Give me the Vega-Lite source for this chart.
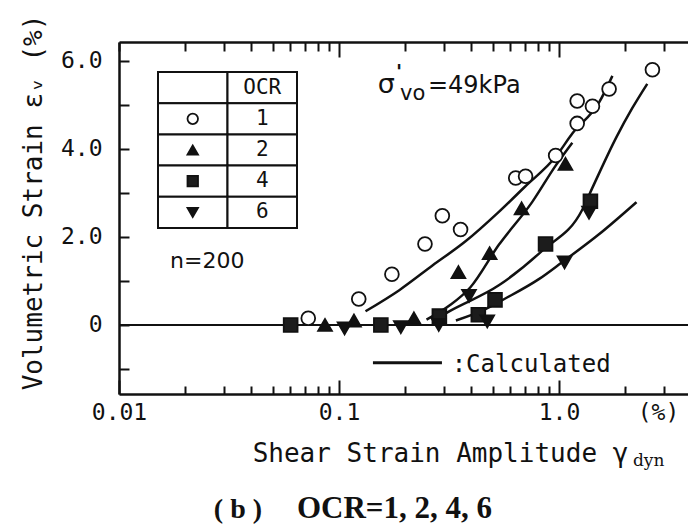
{
  "$schema": "https://vega.github.io/schema/vega-lite/v6.json",
  "width": 569,
  "height": 352,
  "autosize": {"type": "none"},
  "padding": {"left": 119, "top": 42, "right": 0, "bottom": 133},
  "background": "white",
  "config": {"view": {"stroke": null}, "axis": {"grid": false}},
  "datasets": {
    "points": [
      {"ocr": "1", "x": 0.0725, "y": 0.15}, {"ocr": "1", "x": 0.123, "y": 0.59}, {"ocr": "1", "x": 0.174, "y": 1.15},
      {"ocr": "1", "x": 0.246, "y": 1.84}, {"ocr": "1", "x": 0.295, "y": 2.48}, {"ocr": "1", "x": 0.357, "y": 2.17},
      {"ocr": "1", "x": 0.636, "y": 3.34}, {"ocr": "1", "x": 0.705, "y": 3.38}, {"ocr": "1", "x": 0.966, "y": 3.85},
      {"ocr": "1", "x": 1.21, "y": 4.58}, {"ocr": "1", "x": 1.21, "y": 5.09}, {"ocr": "1", "x": 1.42, "y": 4.97},
      {"ocr": "1", "x": 1.69, "y": 5.36}, {"ocr": "1", "x": 2.66, "y": 5.8},
      {"ocr": "2", "x": 0.0864, "y": 0}, {"ocr": "2", "x": 0.117, "y": 0.1}, {"ocr": "2", "x": 0.219, "y": 0.15},
      {"ocr": "2", "x": 0.349, "y": 1.2}, {"ocr": "2", "x": 0.484, "y": 1.63}, {"ocr": "2", "x": 0.676, "y": 2.65},
      {"ocr": "2", "x": 1.07, "y": 3.66},
      {"ocr": "4", "x": 0.0603, "y": 0}, {"ocr": "4", "x": 0.155, "y": 0}, {"ocr": "4", "x": 0.286, "y": 0.2},
      {"ocr": "4", "x": 0.43, "y": 0.23}, {"ocr": "4", "x": 0.512, "y": 0.57}, {"ocr": "4", "x": 0.869, "y": 1.84},
      {"ocr": "4", "x": 1.39, "y": 2.81},
      {"ocr": "6", "x": 0.106, "y": -0.08}, {"ocr": "6", "x": 0.191, "y": -0.05}, {"ocr": "6", "x": 0.284, "y": 0},
      {"ocr": "6", "x": 0.39, "y": 0.66}, {"ocr": "6", "x": 0.472, "y": 0.08}, {"ocr": "6", "x": 1.06, "y": 1.42},
      {"ocr": "6", "x": 1.37, "y": 2.55}
    ],
    "curves": [
      {"ocr": "1", "x": 0.132, "y": 0.31}, {"ocr": "1", "x": 0.188, "y": 0.79}, {"ocr": "1", "x": 0.266, "y": 1.35},
      {"ocr": "1", "x": 0.376, "y": 1.9}, {"ocr": "1", "x": 0.533, "y": 2.57}, {"ocr": "1", "x": 0.7, "y": 3.14},
      {"ocr": "1", "x": 0.966, "y": 3.82}, {"ocr": "1", "x": 1.15, "y": 4.35}, {"ocr": "1", "x": 1.52, "y": 5.05},
      {"ocr": "1", "x": 1.75, "y": 5.66},
      {"ocr": "2", "x": 0.25, "y": 0.12}, {"ocr": "2", "x": 0.32, "y": 0.45}, {"ocr": "2", "x": 0.395, "y": 0.85},
      {"ocr": "2", "x": 0.533, "y": 1.82}, {"ocr": "2", "x": 0.755, "y": 2.79}, {"ocr": "2", "x": 0.966, "y": 3.62},
      {"ocr": "2", "x": 1.15, "y": 4.14},
      {"ocr": "4", "x": 0.295, "y": 0.22}, {"ocr": "4", "x": 0.32, "y": 0.32}, {"ocr": "4", "x": 0.533, "y": 0.9},
      {"ocr": "4", "x": 0.84, "y": 1.69}, {"ocr": "4", "x": 1.28, "y": 2.63}, {"ocr": "4", "x": 1.42, "y": 3.12},
      {"ocr": "4", "x": 1.83, "y": 4.28}, {"ocr": "4", "x": 2.15, "y": 4.92}, {"ocr": "4", "x": 2.52, "y": 5.48},
      {"ocr": "6", "x": 0.34, "y": 0.1}, {"ocr": "6", "x": 0.45, "y": 0.33}, {"ocr": "6", "x": 0.57, "y": 0.6},
      {"ocr": "6", "x": 0.81, "y": 1.04}, {"ocr": "6", "x": 1.03, "y": 1.42}, {"ocr": "6", "x": 1.52, "y": 2.06},
      {"ocr": "6", "x": 2.25, "y": 2.79}
    ],
    "table": [
      {"row": "OCR", "col": "sym", "text": ""}, {"row": "OCR", "col": "val", "text": "OCR"},
      {"row": "1", "col": "sym", "text": ""}, {"row": "1", "col": "val", "text": "1"},
      {"row": "2", "col": "sym", "text": ""}, {"row": "2", "col": "val", "text": "2"},
      {"row": "4", "col": "sym", "text": ""}, {"row": "4", "col": "val", "text": "4"},
      {"row": "6", "col": "sym", "text": ""}, {"row": "6", "col": "val", "text": "6"}
    ]
  },
  "layer": [
    {
      "layer": [
        {
          "data": {"values": [{"y": 0}]},
          "mark": {"type": "rule", "color": "#111", "strokeWidth": 2},
          "encoding": {"y": {"field": "y", "type": "quantitative"}}
        },
        {
          "data": {"name": "curves"},
          "mark": {"type": "line", "color": "#111", "strokeWidth": 2.5, "interpolate": "monotone"},
          "encoding": {
            "x": {"field": "x", "type": "quantitative",
              "axis": {"orient": "top", "values": [0.01,0.02,0.03,0.04,0.05,0.06,0.07,0.08,0.09,0.1,0.2,0.3,0.4,0.5,0.6,0.7,0.8,0.9,1,2,3],
                "labels": false, "tickSize": {"expr": "(datum.value == 0.1 || datum.value == 1) ? -15 : -9"},
                "tickWidth": 2, "tickColor": "#111", "domainColor": "#111", "domainWidth": 2.5, "title": null}},
            "y": {"field": "y", "type": "quantitative"},
            "detail": {"field": "ocr"}
          }
        },
        {
          "data": {"name": "points"},
          "mark": {"type": "point", "filled": true, "stroke": "#111", "strokeWidth": 1.8, "size": 190, "opacity": 1},
          "encoding": {
            "x": {"field": "x", "type": "quantitative",
              "scale": {"type": "log", "domain": [0.01, 3.86], "nice": false},
              "axis": {"orient": "bottom",
                "values": [0.01,0.02,0.03,0.04,0.05,0.06,0.07,0.08,0.09,0.1,0.2,0.3,0.4,0.5,0.6,0.7,0.8,0.9,1,2,3,2.82],
                "labelExpr": "datum.value == 0.01 ? '0.01' : datum.value == 0.1 ? '0.1' : datum.value == 1 ? '1.0' : datum.value == 2.82 ? '(%)' : ''",
                "tickSize": {"expr": "(datum.value == 0.01 || datum.value == 0.1 || datum.value == 1 || datum.value == 2.82) ? -14 : -8"},
                "tickOpacity": {"expr": "datum.value == 2.82 ? 0 : 1"},
                "tickWidth": 2, "tickColor": "#111", "domainColor": "#111", "domainWidth": 2.5,
                "labelFont": "DejaVu Sans Mono", "labelFontSize": 23, "labelColor": "#111", "labelPadding": 21,
                "labelOverlap": false, "labelFlush": false, "labelBound": false,
                "title": "Shear Strain Amplitude  γ", "titleFont": "DejaVu Sans Mono", "titleFontSize": 26,
                "titleFontWeight": "normal", "titleColor": "#111", "titleX": 321, "titleY": 67,
                "titleAlign": "center", "titleBaseline": "alphabetic"}},
            "y": {"field": "y", "type": "quantitative",
              "scale": {"domain": [-1.57, 6.43], "nice": false, "zero": false},
              "axis": {"orient": "left", "values": [-1,0,1,2,3,4,5,6],
                "labelExpr": "datum.value == 0 ? '0' : (datum.value == 2 || datum.value == 4 || datum.value == 6) ? format(datum.value, '.1f') : ''",
                "tickSize": -10, "tickWidth": 2, "tickColor": "#111", "domainColor": "#111", "domainWidth": 2.5,
                "labelFont": "DejaVu Sans Mono", "labelFontSize": 23, "labelColor": "#111", "labelPadding": 27,
                "labelOverlap": false, "labelFlush": false, "labelBound": false,
                "title": "Volumetric Strain  εᵥ (%)", "titleFont": "DejaVu Sans Mono", "titleFontSize": 26,
                "titleFontWeight": "normal", "titleColor": "#111", "titleAngle": 270, "titleX": -86, "titleY": 160,
                "titleAlign": "center", "titleBaseline": "middle"}},
            "shape": {"field": "ocr", "type": "nominal",
              "scale": {"domain": ["1","2","4","6"], "range": ["circle","triangle-up","square","triangle-down"]}, "legend": null},
            "fill": {"field": "ocr", "type": "nominal",
              "scale": {"domain": ["1","2","4","6"], "range": ["white","#111","#1c1c1c","#111"]}, "legend": null}
          }
        },
        {
          "data": {"values": [{"t": "Calculated"}]},
          "mark": {"type": "rule", "color": "#111", "strokeWidth": 3},
          "encoding": {
            "x": {"datum": 0.1427, "type": "quantitative", "axis": null},
            "x2": {"datum": 0.2938},
            "y": {"datum": -0.859, "type": "quantitative"}
          }
        },
        {
          "data": {"values": [{"t": ":Calculated"}]},
          "mark": {"type": "text", "align": "left", "baseline": "alphabetic", "font": "DejaVu Sans Mono", "fontSize": 24, "color": "#111"},
          "encoding": {
            "x": {"datum": 0.3253, "type": "quantitative", "axis": null},
            "y": {"datum": -1.07, "type": "quantitative"},
            "text": {"field": "t"}
          }
        },
        {
          "data": {"values": [{"t": "n=200"}]},
          "mark": {"type": "text", "align": "left", "baseline": "alphabetic", "font": "DejaVu Sans", "fontSize": 22, "color": "#111"},
          "encoding": {
            "x": {"datum": 0.01706, "type": "quantitative", "axis": null},
            "y": {"datum": 1.29, "type": "quantitative"},
            "text": {"field": "t"}
          }
        },
        {
          "data": {"values": [{"t": "=49kPa"}]},
          "mark": {"type": "text", "align": "left", "baseline": "alphabetic", "font": "DejaVu Sans", "fontSize": 24, "color": "#111"},
          "encoding": {
            "x": {"datum": 0.2538, "type": "quantitative", "axis": null},
            "y": {"datum": 5.27, "type": "quantitative"},
            "text": {"field": "t"}
          }
        },
        {
          "data": {"values": [{"t": "σ"}]},
          "mark": {"type": "text", "align": "right", "baseline": "alphabetic", "dx": -33, "font": "DejaVu Sans", "fontSize": 27, "color": "#111"},
          "encoding": {
            "x": {"datum": 0.2538, "type": "quantitative", "axis": null},
            "y": {"datum": 5.27, "type": "quantitative"},
            "text": {"field": "t"}
          }
        },
        {
          "data": {"values": [{"t": "'"}]},
          "mark": {"type": "text", "align": "left", "baseline": "alphabetic", "dx": -32, "dy": -15, "font": "DejaVu Sans", "fontWeight": "bold", "fontSize": 20, "color": "#111"},
          "encoding": {
            "x": {"datum": 0.2538, "type": "quantitative", "axis": null},
            "y": {"datum": 5.27, "type": "quantitative"},
            "text": {"field": "t"}
          }
        },
        {
          "data": {"values": [{"t": "vo"}]},
          "mark": {"type": "text", "align": "left", "baseline": "alphabetic", "dx": -28, "dy": 7, "font": "DejaVu Sans", "fontSize": 21, "color": "#111"},
          "encoding": {
            "x": {"datum": 0.2538, "type": "quantitative", "axis": null},
            "y": {"datum": 5.27, "type": "quantitative"},
            "text": {"field": "t"}
          }
        },
        {
          "data": {"values": [{"t": "dyn"}]},
          "mark": {"type": "text", "align": "left", "baseline": "alphabetic", "font": "DejaVu Serif", "fontSize": 17, "color": "#111"},
          "encoding": {
            "x": {"datum": 2.17, "type": "quantitative", "axis": null},
            "y": {"datum": -3.21, "type": "quantitative"},
            "text": {"field": "t"}
          }
        },
        {
          "data": {"values": [{"t": "( b )"}]},
          "mark": {"type": "text", "align": "center", "baseline": "alphabetic", "font": "Liberation Serif", "fontWeight": "bold", "fontSize": 28, "color": "#111"},
          "encoding": {
            "x": {"datum": 0.03474, "type": "quantitative", "axis": null},
            "y": {"datum": -4.39, "type": "quantitative"},
            "text": {"field": "t"}
          }
        },
        {
          "data": {"values": [{"t": "OCR=1, 2, 4, 6"}]},
          "mark": {"type": "text", "align": "left", "baseline": "alphabetic", "font": "Liberation Serif", "fontWeight": "bold", "fontSize": 31, "color": "#111"},
          "encoding": {
            "x": {"datum": 0.0644, "type": "quantitative", "axis": null},
            "y": {"datum": -4.39, "type": "quantitative"},
            "text": {"field": "t"}
          }
        }
      ],
      "resolve": {"axis": {"x": "independent"}}
    },
    {
      "data": {"name": "table"},
      "encoding": {
        "x": {"field": "col", "type": "nominal", "axis": null,
          "scale": {"domain": ["sym", "val"], "range": [39, 178], "paddingInner": 0, "paddingOuter": 0}},
        "y": {"field": "row", "type": "nominal", "axis": null,
          "scale": {"domain": ["OCR", "1", "2", "4", "6"], "range": [30, 186], "paddingInner": 0, "paddingOuter": 0}}
      },
      "layer": [
        {"mark": {"type": "rect", "fill": "white", "stroke": "#111", "strokeWidth": 2}},
        {
          "transform": [{"filter": "datum.col == 'val'"}],
          "mark": {"type": "text", "align": "center", "baseline": "middle", "font": "DejaVu Sans Mono", "fontSize": 21, "color": "#111"},
          "encoding": {"text": {"field": "text"}}
        },
        {
          "transform": [{"filter": "datum.col == 'sym' && datum.row != 'OCR'"}],
          "mark": {"type": "point", "filled": true, "stroke": "#111", "strokeWidth": 1.8, "size": 110, "opacity": 1},
          "encoding": {
            "shape": {"field": "row", "type": "nominal",
              "scale": {"domain": ["1","2","4","6"], "range": ["circle","triangle-up","square","triangle-down"]}, "legend": null},
            "fill": {"field": "row", "type": "nominal",
              "scale": {"domain": ["1","2","4","6"], "range": ["white","#111","#1c1c1c","#111"]}, "legend": null}
          }
        }
      ]
    }
  ],
  "resolve": {"scale": {"x": "independent", "y": "independent"}}
}
